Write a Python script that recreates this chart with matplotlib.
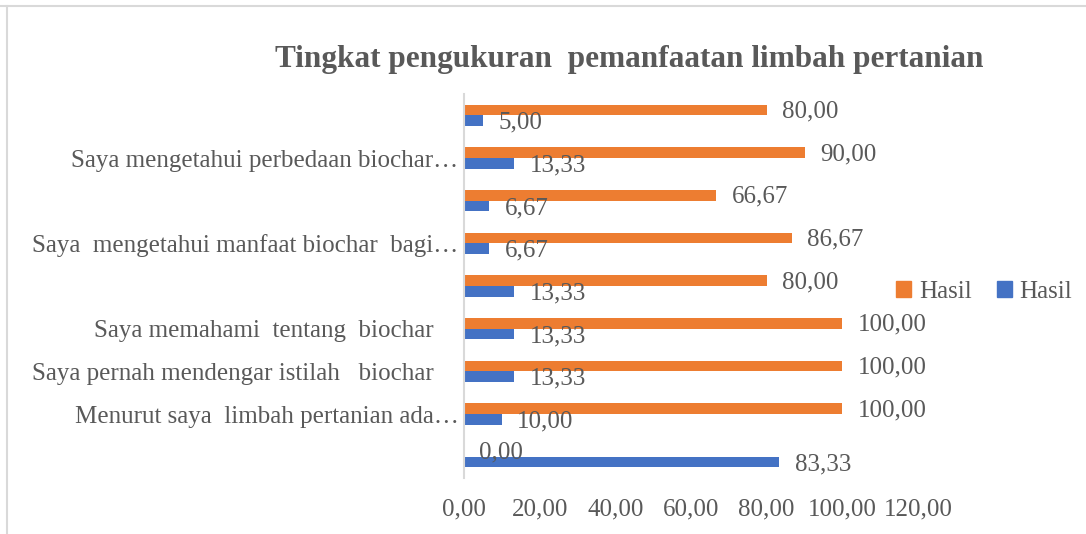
import matplotlib
matplotlib.use("Agg")
import matplotlib.pyplot as plt
from matplotlib.lines import Line2D
from matplotlib.patches import Patch

# kategori dari atas ke bawah
labels = [
    "",
    "Saya mengetahui perbedaan biochar…",
    "",
    "Saya  mengetahui manfaat biochar  bagi…",
    "",
    "Saya memahami  tentang  biochar    ",
    "Saya pernah mendengar istilah   biochar    ",
    "Menurut saya  limbah pertanian ada…",
    "",
]
hasil_orange = [80.00, 90.00, 66.67, 86.67, 80.00, 100.00, 100.00, 100.00, 0.00]
hasil_blue = [5.00, 13.33, 6.67, 6.67, 13.33, 13.33, 13.33, 10.00, 83.33]
xticks = [0, 20, 40, 60, 80, 100, 120]

ORANGE = "#ED7D31"
BLUE = "#4472C4"
TXT = "#595959"
GRID = "#D9D9D9"
FS = 18

plt.rcParams["font.family"] = ["Liberation Serif", "DejaVu Serif"]

fig = plt.figure(figsize=(10.86, 5.34), dpi=100)
ax = fig.add_axes([464 / 1086, 1 - 478 / 534, (918 - 464) / 1086, (478 - 94) / 534])

h = 0.25
ypos = list(range(len(labels)))
ax.barh([y - h / 2 for y in ypos], hasil_orange, height=h, color=ORANGE, label="Hasil")
ax.barh([y + h / 2 for y in ypos], hasil_blue, height=h, color=BLUE, label="Hasil")

fmt = lambda v: f"{v:.2f}".replace(".", ",")
for y, v in zip(ypos, hasil_orange):
    ax.annotate(fmt(v), (v, y - h / 2), xytext=(11, -1), textcoords="offset points",
                va="center", ha="left", fontsize=FS, color=TXT)
for y, v in zip(ypos, hasil_blue):
    ax.annotate(fmt(v), (v, y + h / 2), xytext=(11, -1.5), textcoords="offset points",
                va="center", ha="left", fontsize=FS, color=TXT)

ax.set_xlim(0, 120)
ax.set_ylim(len(labels) - 0.5, -0.5)
ax.set_yticks(ypos)
ax.set_yticklabels(labels, fontsize=FS, color=TXT)
ax.set_xticks(xticks)
ax.set_xticklabels([fmt(x) for x in xticks], fontsize=FS, color=TXT)
ax.tick_params(axis="y", length=0, pad=4)
ax.tick_params(axis="x", length=0, pad=15)

for s in ["top", "right", "bottom"]:
    ax.spines[s].set_visible(False)
ax.spines["left"].set_color(GRID)
ax.spines["left"].set_linewidth(1.5)

fig.text(629 / 1086, 1 - 59 / 534, "Tingkat pengukuran  pemanfaatan limbah pertanian",
         ha="center", va="center", fontsize=22.5, fontweight="bold", color=TXT)

handles = [Patch(color=ORANGE, label="Hasil"), Patch(color=BLUE, label="Hasil")]
fig.legend(handles=handles, loc="center", bbox_to_anchor=(984 / 1086, 1 - 292 / 534),
           ncol=2, frameon=False, fontsize=FS, labelcolor=TXT,
           handlelength=0.6, handleheight=0.6, handletextpad=0.3, columnspacing=1.0)

# bingkai chart
fig.add_artist(Line2D([0, 1], [1 - 5.5 / 534, 1 - 5.5 / 534], color=GRID, lw=1.5,
                      transform=fig.transFigure))
fig.add_artist(Line2D([7 / 1086, 7 / 1086], [0, 1 - 5.5 / 534], color=GRID, lw=1.5,
                      transform=fig.transFigure))

fig.savefig("out.png", dpi=100)
